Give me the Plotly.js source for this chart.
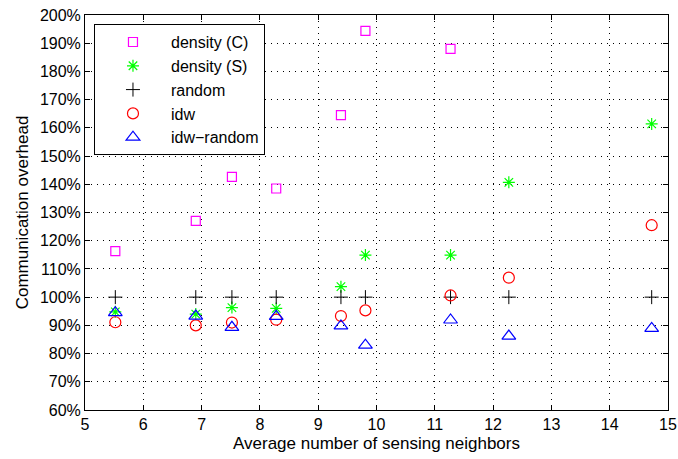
<!DOCTYPE html>
<html>
<head>
<meta charset="utf-8">
<script src="https://cdn.plot.ly/plotly-3.0.1.min.js"></script>
<style>html,body{margin:0;padding:0;background:#fff}#chart{width:678px;height:459px}</style>
</head>
<body>
<div id="chart"></div>
<script>
const xAll = [5.52, 6.90, 7.52, 8.28, 9.39, 9.81, 11.27, 12.27, 14.72];
const xDensityC = [5.52, 6.90, 7.52, 8.28, 9.39, 9.81, 11.27];
const densityC = [116.3, 127.0, 142.6, 138.5, 164.5, 194.4, 188.0];
const densityS = [94.8, 94.0, 96.3, 96.0, 103.7, 114.9, 114.9, 140.7, 161.4];
const randomV = [100, 100, 100, 100, 100, 100, 100, 100, 100];
const idw = [91.1, 90.0, 91.0, 92.0, 93.3, 95.3, 100.6, 106.9, 125.5];
const idwRandom = [94.5, 93.3, 89.3, 93.2, 89.8, 83.0, 91.9, 86.2, 88.9];
const xTicks = [5, 6, 7, 8, 9, 10, 11, 12, 13, 14, 15];

const traces = [
  {x: xDensityC, y: densityC, name: 'density (C)', mode: 'markers',
   marker: {symbol: 'square-open', size: 9, color: '#ff00ff', line: {width: 1.2}}},
  {x: xAll, y: densityS, name: 'density (S)', mode: 'markers',
   marker: {symbol: 'asterisk-open', size: 10, color: '#00ff00', line: {width: 1.2, color: '#00ee00'}}},
  {x: xAll, y: randomV, name: 'random', mode: 'markers',
   marker: {symbol: 'cross-thin-open', size: 10, color: '#000000', line: {width: 1, color: '#000000'}}},
  {x: xAll, y: idw, name: 'idw', mode: 'markers',
   marker: {symbol: 'circle-open', size: 11, color: '#ff0000', line: {width: 1.2}}},
  {x: xAll, y: idwRandom, name: 'idw\u2212random', mode: 'markers',
   marker: {symbol: 'triangle-up-open', size: 12, color: '#0000ff', line: {width: 1.2}}}
];

const fam = 'Liberation Sans, Arial, sans-serif';

const layout = {
  width: 678, height: 459,
  margin: {l: 85, r: 10, t: 15, b: 49},
  paper_bgcolor: '#fff', plot_bgcolor: '#fff',
  font: {family: fam, size: 16, color: '#000'},
  showlegend: true,
  legend: {x: 0.0154, y: 0.977, xanchor: 'left', yanchor: 'top',
    bordercolor: '#000', borderwidth: 1, bgcolor: '#fff',
    font: {family: fam, size: 16, color: '#000'},
    itemwidth: 66, tracegroupgap: 0},
  xaxis: {range: [5, 15], tickvals: xTicks, ticktext: xTicks.map(String),
    ticks: 'inside', ticklen: 5, tickcolor: '#000', mirror: 'ticks',
    showline: true, linecolor: '#000', linewidth: 1,
    showgrid: true, gridcolor: '#000', gridwidth: 1, griddash: '1px,5px',
    zeroline: false, tickfont: {size: 16},
    title: {text: 'Average number of sensing neighbors', font: {size: 17}, standoff: 4}},
  yaxis: {range: [60, 200], dtick: 10, tick0: 60, ticksuffix: '%',
    ticks: 'inside', ticklen: 5, tickcolor: '#000', mirror: 'ticks',
    showline: true, linecolor: '#000', linewidth: 1,
    showgrid: true, gridcolor: '#000', gridwidth: 1, griddash: '1px,5px',
    zeroline: false, tickfont: {size: 16},
    title: {text: 'Communication overhead', font: {size: 17}, standoff: 6}}
};

Plotly.newPlot('chart', traces, layout, {displayModeBar: false, staticPlot: true});
</script>
</body>
</html>
